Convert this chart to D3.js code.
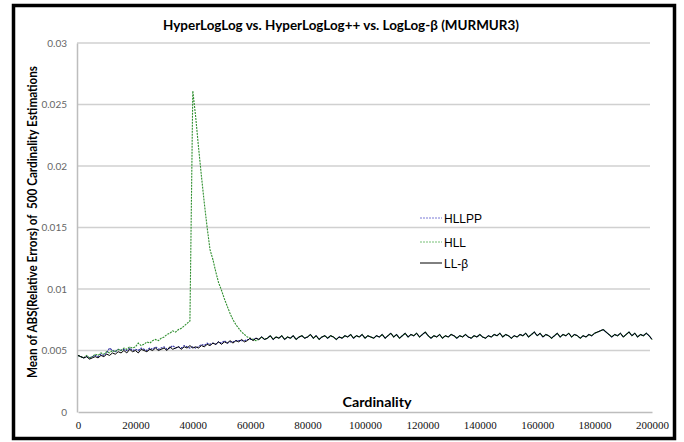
<!DOCTYPE html>
<html><head><meta charset="utf-8">
<script src="https://cdn.jsdelivr.net/npm/d3@7"></script>
<style>html,body{margin:0;padding:0;background:#fff;}</style>
</head><body>
<svg id="c" width="684" height="442"></svg>
<script>
// cardinality step between points
const STEP = 1000;
const yTicks = [0, 0.005, 0.01, 0.015, 0.02, 0.025, 0.03];
const xTicks = [0, 20000, 40000, 60000, 80000, 100000, 120000, 140000, 160000, 180000, 200000];
const seriesNames = ["HLLPP", "HLL", "LL-β"];

// values in units of 1e-4, index i -> cardinality i*1000
const llBeta = [
46,45,44,45,43,44,45,44,46,45, 47,46,48,47,49,48,50,48,51,49,
50,48,51,50,49,51,50,52,50,51, 52,50,53,51,52,53,51,53,52,54,
52,53,52,54,53,55,54,56,55,57, 55,57,56,58,56,58,57,59,57,58,
60,58,60,59,61,59,60,62,59,61, 60,62,59,61,60,62,59,61,62,60,
61,63,60,62,59,61,62,60,62,61, 59,61,60,62,61,63,60,62,61,63,
60,62,61,60,62,61,63,60,62,64, 61,63,60,62,64,61,63,62,64,61,
63,65,62,60,62,61,63,60,62,61, 63,62,60,62,61,63,61,60,62,61,
63,61,60,62,61,63,62,64,61,63, 62,60,62,61,63,62,64,61,63,65,
62,64,61,63,62,60,62,64,61,63, 62,64,61,63,62,60,62,61,63,62,
64,65,66,67,65,63,61,63,62,64, 61,63,65,62,64,61,63,62,64,62,
59];

const hll = [
46,45,44,46,44,45,47,46,48,47, 49,48,50,49,51,50,52,51,53,52,
53,56,54,55,57,56,58,59,58,60, 61,63,64,66,65,67,68,70,72,74,
261,240,215,192,170,150,132,124,114,105, 99,92,86,80,75,71,68,65,63,61,
60,59,58,59,61,59,60,62,59,61, 60,62,59,61,60,62,59,61,62,60,
61,63,60,62,59,61,62,60,62,61, 59,61,60,62,61,63,60,62,61,63,
60,62,61,60,62,61,63,60,62,64, 61,63,60,62,64,61,63,62,64,61,
63,65,62,60,62,61,63,60,62,61, 63,62,60,62,61,63,61,60,62,61,
63,61,60,62,61,63,62,64,61,63, 62,60,62,61,63,62,64,61,63,65,
62,64,61,63,62,60,62,64,61,63, 62,64,61,63,62,60,62,61,63,62,
64,65,66,67,65,63,61,63,62,64, 61,63,65,62,64,61,63,62,64,62,
59];

const hllpp = [
46,45,44,45,44,45,46,45,47,46, 48,52,50,49,51,50,51,50,52,50,
51,50,52,51,50,52,51,53,51,52, 53,51,52,54,52,53,52,54,53,52,
53,52,53,55,54,56,55,56,55,57, 56,58,56,57,57,58,58,58,58,59,
59,59,60,59,61,59,60,62,59,61, 60,62,59,61,60,62,59,61,62,60,
61,63,60,62,59,61,62,60,62,61, 59,61,60,62,61,63,60,62,61,63,
60,62,61,60,62,61,63,60,62,64, 61,63,60,62,64,61,63,62,64,61,
63,65,62,60,62,61,63,60,62,61, 63,62,60,62,61,63,61,60,62,61,
63,61,60,62,61,63,62,64,61,63, 62,60,62,61,63,62,64,61,63,65,
62,64,61,63,62,60,62,64,61,63, 62,64,61,63,62,60,62,61,63,62,
64,65,66,67,65,63,61,63,62,64, 61,63,65,62,64,61,63,62,64,62,
59];

const svg = d3.select("#c");
const L = 78, R = 652, T = 43, B = 412;
const x = d3.scaleLinear().domain([0, 200000]).range([L, R]);
const y = d3.scaleLinear().domain([0, 0.03]).range([B, T]);

// frame
svg.append("rect").attr("x", 13.5).attr("y", 5.5).attr("width", 661).attr("height", 433)
  .attr("fill", "#fff").attr("stroke", "#000").attr("stroke-width", 3.5);

// gridlines
svg.append("g").selectAll("line").data(yTicks.filter(d => d > 0)).join("line")
  .attr("x1", L - 1).attr("x2", R - 2).attr("y1", d => y(d)).attr("y2", d => y(d))
  .attr("stroke", "#d0d0d0").attr("stroke-width", 1.5);

// y axis
const ya = svg.append("g").attr("transform", `translate(${L - 1},0)`)
  .call(d3.axisLeft(y).tickValues(yTicks).tickSize(0).tickPadding(10).tickFormat(d => d === 0 ? "0" : d3.format("")(+d.toFixed(3))));
ya.select(".domain").attr("stroke", "#bdbdbd").attr("stroke-width", 1.5);
ya.selectAll("text").attr("font-family", "Lato, sans-serif").attr("font-size", 10).attr("fill", "#666");

// x axis
const xa = svg.append("g").attr("transform", `translate(0,${B})`)
  .call(d3.axisBottom(x).tickValues(xTicks).tickSize(0).tickPadding(9).tickFormat(d3.format("d")));
xa.select(".domain").attr("stroke", "#bdbdbd").attr("stroke-width", 1.5);
xa.selectAll("text").attr("font-family", "'Liberation Serif', serif").attr("font-size", 11).attr("fill", "#111");

// lines
const mk = arr => d3.line().x((d, i) => x(i * STEP)).y(d => y(d * 1e-4))(arr);
svg.append("path").attr("d", mk(hllpp)).attr("fill", "none").attr("stroke", "#2b2ba0").attr("stroke-width", 1.1).attr("stroke-dasharray", "2,1");
svg.append("path").attr("d", mk(hll)).attr("fill", "none").attr("stroke", "#2f8f2f").attr("stroke-width", 1.1).attr("stroke-dasharray", "2,1");
svg.append("path").attr("d", mk(llBeta)).attr("fill", "none").attr("stroke", "#000").attr("stroke-width", 1);

// legend
const lg = [
  {name: seriesNames[0], color: "#7b7bd6", dash: "2,1", y: 218},
  {name: seriesNames[1], color: "#77c077", dash: "2,1", y: 242},
  {name: seriesNames[2], color: "#000", dash: null, y: 263}
];
const lgG = svg.append("g");
lg.forEach(d => {
  lgG.append("line").attr("x1", 420).attr("x2", 442).attr("y1", d.y).attr("y2", d.y)
    .attr("stroke", d.color).attr("stroke-width", 1).attr("stroke-dasharray", d.dash);
  lgG.append("text").attr("x", 444).attr("y", d.y + 4.5).text(d.name)
    .attr("font-family", "'Liberation Sans', Arial, sans-serif").attr("font-size", 12).attr("fill", "#000");
});

// titles
svg.append("text").attr("x", 341).attr("y", 29.5).attr("text-anchor", "middle")
  .attr("font-family", "Lato, sans-serif").attr("font-weight", 700).attr("font-size", 13.5)
  .attr("textLength", 356).attr("lengthAdjust", "spacingAndGlyphs")
  .text("HyperLogLog vs. HyperLogLog++ vs. LogLog-β (MURMUR3)");

svg.append("text").attr("transform", "translate(37,222) rotate(-90)").attr("text-anchor", "middle")
  .attr("font-family", "Lato, sans-serif").attr("font-weight", 700).attr("font-size", 13.5)
  .attr("textLength", 312).attr("lengthAdjust", "spacingAndGlyphs")
  .text("Mean of ABS(Relative Errors) of\u00a0\u00a0500 Cardinality Estimations");

svg.append("text").attr("x", 377).attr("y", 406.5).attr("text-anchor", "middle")
  .attr("font-family", "Lato, sans-serif").attr("font-weight", 700).attr("font-size", 13.5)
  .attr("textLength", 69).attr("lengthAdjust", "spacingAndGlyphs")
  .text("Cardinality");
</script>
</body></html>
